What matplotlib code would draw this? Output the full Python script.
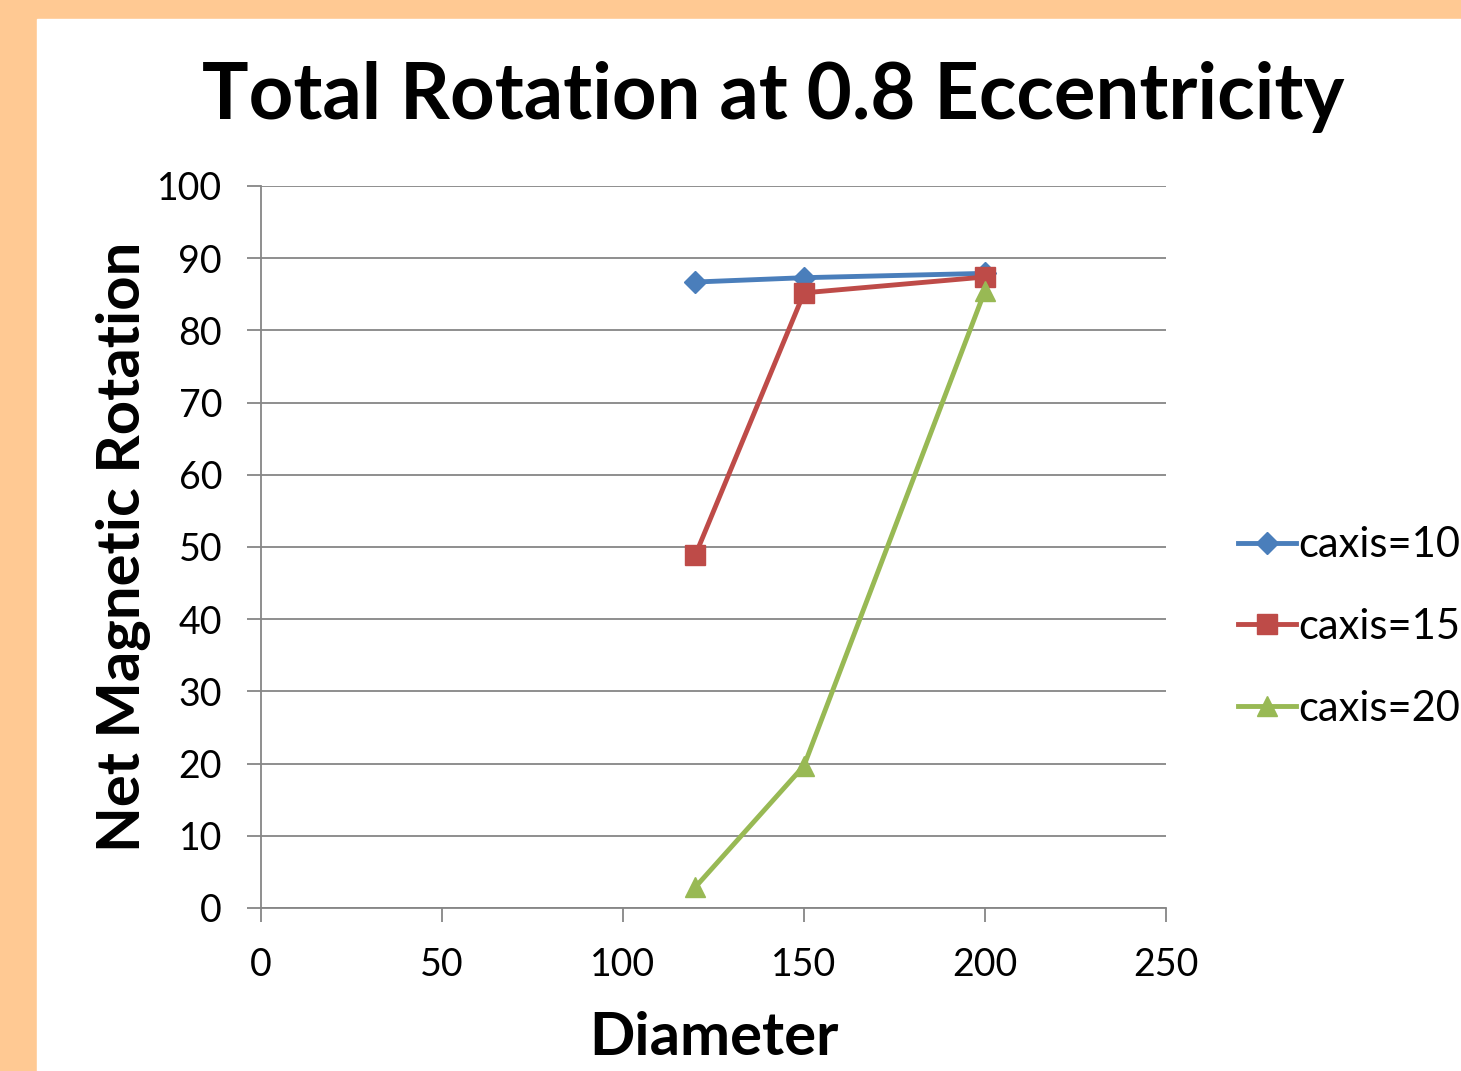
import matplotlib.pyplot as plt

# data
diameter = [120, 150, 200]
caxis10 = [86.7, 87.3, 87.9]
caxis15 = [48.9, 85.2, 87.4]
caxis20 = [2.9, 19.7, 85.5]
labels = ['caxis=10', 'caxis=15', 'caxis=20']

plt.rcParams['font.family'] = ['Lato', 'DejaVu Sans']

fig = plt.figure(figsize=(14.61, 10.71), dpi=100)
fig.patch.set_facecolor('#FFC993')
# white chart area
fig.add_artist(plt.Rectangle((37 / 1461, 0), 1, 1 - 19 / 1071,
                             transform=fig.transFigure, color='white', zorder=0))

ax = fig.add_axes([261 / 1461, 1 - 908 / 1071, 905 / 1461, 722 / 1071])
ax.set_facecolor('none')

ax.plot(diameter, caxis10, color='#4A7EBB', lw=3.5, marker='D', ms=11, label=labels[0], zorder=3)
ax.plot(diameter, caxis15, color='#BE4B48', lw=3.5, marker='s', ms=14, label=labels[1], zorder=3)
ax.plot(diameter, caxis20, color='#98B954', lw=3.5, marker='^', ms=15, label=labels[2], zorder=3)

ax.set_xlim(0, 250)
ax.set_ylim(0, 100)
ax.set_xticks(range(0, 251, 50))
ax.set_yticks(range(0, 101, 10))
ax.yaxis.grid(True, color='#868686', lw=1.3)
ax.set_axisbelow(True)
for s in ['top', 'right']:
    ax.spines[s].set_visible(False)
for s in ['left', 'bottom']:
    ax.spines[s].set_color('#868686')
    ax.spines[s].set_linewidth(1.3)
ax.tick_params(colors='#868686', labelcolor='black', labelsize=27, length=10, width=1.3)
ax.tick_params(axis='x', pad=18)
ax.tick_params(axis='y', pad=18)

ax.set_xlabel('Diameter', fontsize=43, fontweight='bold', labelpad=20)
ax.set_ylabel('Net Magnetic Rotation', fontsize=43, fontweight='bold', labelpad=4)
fig.text(773 / 1461, 1 - 97 / 1071, 'Total Rotation at 0.8 Eccentricity',
         fontsize=56, fontweight='bold', ha='center', va='center')

fig.legend(loc='center left', bbox_to_anchor=(1238 / 1461, 1 - 627 / 1071),
           frameon=False, fontsize=30, handlelength=1.4, handletextpad=0.05,
           labelspacing=1.05, borderaxespad=0, borderpad=0)

fig.savefig('out.png', dpi=100)
